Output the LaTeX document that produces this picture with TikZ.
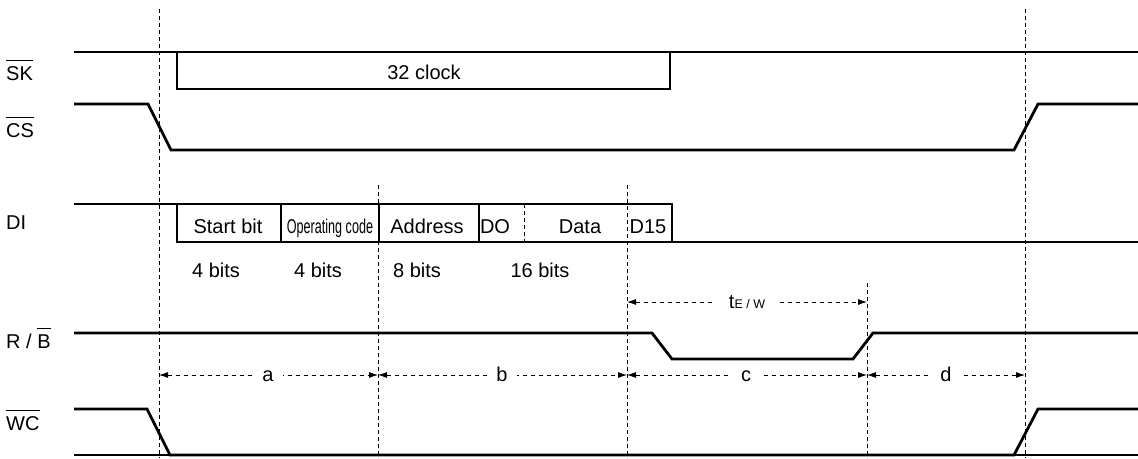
\documentclass[tikz,border=0pt]{standalone}
\usepackage{fontspec}
\setmainfont{Liberation Sans}
\usetikzlibrary{arrows.meta}
\newlength\olw
\newcommand{\ovl}[1]{\settowidth{\olw}{#1}\rlap{\rule[19pt]{\olw}{0.9pt}}#1}
\begin{document}
\begin{tikzpicture}[x=1pt,y=-1pt,
  sig/.style={line width=2.8pt, line join=miter},
  guide/.style={line width=0.8pt, dash pattern=on 4pt off 3pt},
  dim/.style={line width=0.8pt, dash pattern=on 4pt off 4pt, {Latex[length=9pt,width=6pt]}-{Latex[length=9pt,width=6pt]}},
  txt/.style={font=\fontsize{20}{24}\selectfont, inner sep=0pt, anchor=base},
  lbl/.style={txt, anchor=base west},
  dl/.style={txt, fill=white, inner xsep=9pt, inner ysep=3pt}]
\useasboundingbox (0,0) rectangle (1138,458);

% guide coordinates
\coordinate (g1t) at (159,9);   \coordinate (g1b) at (159,458);
\coordinate (g2t) at (378,185); \coordinate (g2b) at (378,458);
\coordinate (g3t) at (627,185); \coordinate (g3b) at (627,458);
\coordinate (g4t) at (867,283); \coordinate (g4b) at (867,458);
\coordinate (g5t) at (1025,9);  \coordinate (g5b) at (1025,458);
\draw[guide] (g1t) -- (g1b);
\draw[guide] (g2t) -- (g2b);
\draw[guide] (g3t) -- (g3b);
\draw[guide] (g4t) -- (g4b);
\draw[guide] (g5t) -- (g5b);

% signal labels
\node[lbl] (lsk) at (6,80) {\ovl{SK}};
\node[lbl] (lcs) at (6,137) {\ovl{CS}};
\node[lbl] (ldi) at (6,229) {DI};
\node[lbl] (lrb) at (6,348) {R / \ovl{B}};
\node[lbl] (lwc) at (6,430) {\ovl{WC}};

% SK
\draw[sig] (74,52) -- (1138,52);
\draw[sig] (177,52) -- (177,89) -- (670,89) -- (670,52);
\node[txt] (clk) at (424,79) {32 clock};

% CS
\draw[sig] (74,104) -- (148,104) -- (171,150) -- (1014,150) -- (1038,104) -- (1138,104);

% DI
\draw[sig] (74,204) -- (672,204) -- (672,242) -- (1138,242);
\draw[sig] (177,204) -- (177,242) -- (672,242);
\draw[sig] (281,204) -- (281,242);
\draw[sig] (379,204) -- (379,242);
\draw[sig] (479,204) -- (479,242);
\draw[guide] (524,204) -- (524,242);
\node[txt] (sb) at (228,233) {Start bit};
\node[txt] (oc) at (330,233) {\scalebox{0.63}[1]{Operating code}};
\node[txt] (ad) at (427,233) {Address};
\node[txt] (do) at (495,233) {DO};
\node[txt] (da) at (580,233) {Data};
\node[txt] (d15) at (648,233) {D15};
\node[txt] (b1) at (216,277) {4 bits};
\node[txt] (b2) at (318,277) {4 bits};
\node[txt] (b3) at (417,277) {8 bits};
\node[txt] (b4) at (540,277) {16 bits};

% tE/W
\coordinate (tl) at (627,302); \coordinate (tr) at (867,302);
\draw[dim] (tl) -- node[dl, anchor=center, inner xsep=14pt] (tew) {t{\fontsize{12.5}{14}\selectfont E / W}} (tr);

% R/B
\draw[sig] (74,333) -- (652,333) -- (672,359) -- (853,359) -- (873,333) -- (1138,333);

% a b c d
\coordinate (p1) at (159,375); \coordinate (p2) at (378,375);
\coordinate (p3) at (627,375); \coordinate (p4) at (867,375);
\coordinate (p5) at (1025,375);
\draw[dim] (p1) -- (p2);
\draw[dim] (p2) -- (p3);
\draw[dim] (p3) -- (p4);
\draw[dim] (p4) -- (p5);
\node[dl] (la) at (268,381) {a};
\node[dl] (lb) at (502,381) {b};
\node[dl] (lc) at (746,381) {c};
\node[dl] (ld) at (946,381) {d};

% WC
\draw[sig] (74,409) -- (147,409) -- (170,455) -- (1014,455) -- (1038,409) -- (1138,409);
\draw[sig] (74,455) -- (1138,455);
\end{tikzpicture}
\end{document}
